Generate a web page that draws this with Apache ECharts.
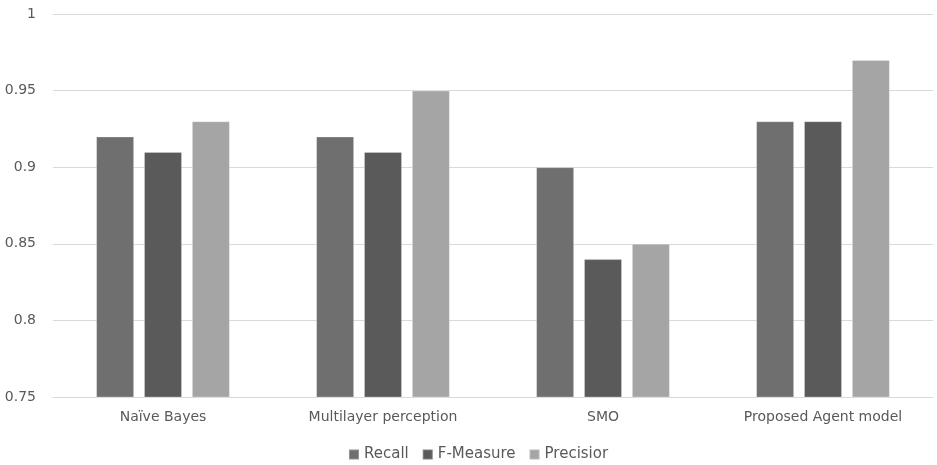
<!DOCTYPE html>
<html>
<head>
<meta charset="utf-8">
<script src="https://cdn.jsdelivr.net/npm/echarts@6/dist/echarts.min.js"></script>
<style>
  html, body { margin: 0; padding: 0; background: #fff; }
  #chart { width: 937px; height: 465px; }
</style>
</head>
<body>
<div id="chart"></div>
<script>
// Classifier comparison: recall, F-measure and precision per model
const categories = ['Naïve Bayes', 'Multilayer perception', 'SMO', 'Proposed Agent model'];
const recall = [0.92, 0.92, 0.90, 0.93];
const fMeasure = [0.91, 0.91, 0.84, 0.93];
const precision = [0.93, 0.95, 0.85, 0.97];
const yTicks = [0.75, 0.8, 0.85, 0.9, 0.95, 1];

const chart = echarts.init(document.getElementById('chart'));
const font = 'DejaVu Sans, sans-serif';

function bar(name, data, color) {
  return {
    name, type: 'bar', data,
    barWidth: 38, barGap: '26%',
    itemStyle: { color, borderColor: 'rgba(255,255,255,0.25)', borderWidth: 1 }
  };
}

chart.setOption({
  animation: false,
  grid: { left: 53, right: 4, top: 14, bottom: 68 },
  legend: {
    bottom: -2, left: 343,
    itemWidth: 10, itemHeight: 10, itemGap: 13,
    icon: 'rect',
    textStyle: { color: '#595959', fontSize: 15, fontFamily: font }
  },
  xAxis: {
    type: 'category', data: categories,
    axisLine: { lineStyle: { color: '#d9d9d9' } },
    axisTick: { show: false },
    axisLabel: { color: '#595959', fontSize: 14, fontFamily: font, margin: 13 }
  },
  yAxis: {
    type: 'value', min: yTicks[0], max: yTicks[yTicks.length - 1], interval: 0.05,
    axisLine: { show: false }, axisTick: { show: false },
    splitLine: { lineStyle: { color: '#d9d9d9' } },
    axisLabel: {
      color: '#595959', fontSize: 14, fontFamily: font, margin: 17,
      formatter: v => {
        const t = yTicks.find(x => Math.abs(x - v) < 1e-9);
        return t === undefined ? '' : String(t);
      }
    }
  },
  series: [
    bar('Recall', recall, '#6f6f6f'),
    bar('F-Measure', fMeasure, '#5a5a5a'),
    bar('Precisior', precision, '#a5a5a5')
  ]
});
</script>
</body>
</html>
